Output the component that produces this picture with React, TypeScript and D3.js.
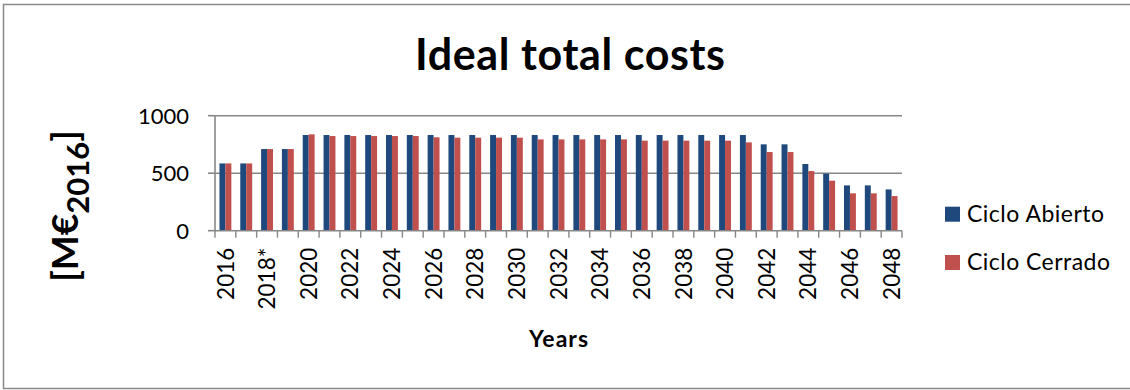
import React from "react";
import * as d3 from "d3";

const categories = [
  "2016", "2017", "2018*", "2019", "2020", "2021", "2022", "2023", "2024", "2025",
  "2026", "2027", "2028", "2029", "2030", "2031", "2032", "2033", "2034", "2035",
  "2036", "2037", "2038", "2039", "2040", "2041", "2042", "2043", "2044", "2045",
  "2046", "2047", "2048",
];
const cicloAbierto = [
  585, 585, 710, 710, 832, 832, 832, 832, 832, 832,
  832, 832, 832, 832, 832, 832, 832, 832, 832, 832,
  832, 832, 832, 832, 832, 832, 751, 751, 580, 496,
  394, 394, 359,
];
const cicloCerrado = [
  585, 585, 710, 710, 838, 823, 823, 823, 823, 823,
  812, 809, 809, 809, 809, 794, 794, 794, 794, 794,
  783, 783, 783, 783, 783, 768, 684, 684, 519, 435,
  325, 325, 301,
];
const yTicks = [0, 500, 1000];
const seriesNames = ["Ciclo Abierto", "Ciclo Cerrado"];
const seriesColors = ["#1F497D", "#C0504D"];
const legendWidths = [137, 143];

const FONT = "Lato, 'Open Sans', sans-serif";

export default function App() {
  const left = 215, right = 902, top = 115.7, bottom = 230.7;
  const x = d3.scaleBand<string>().domain(categories).range([left, right]).padding(0);
  const y = d3.scaleLinear().domain([0, 1000]).range([bottom, top]);
  const bw = x.bandwidth();
  const barW = bw / 3.5;
  const x1 = d3.scaleBand<string>().domain(seriesNames).range([(bw - 2 * barW) / 2, (bw + 2 * barW) / 2]).padding(0);
  const series = [cicloAbierto, cicloCerrado];
  const grid = "#878787";

  return (
    <svg width={1130} height={390} style={{ position: "absolute", left: 0, top: 0, background: "#fff" }} fontFamily={FONT}>
      <rect x={3.5} y={4.5} width={1140} height={384} fill="#fff" stroke="#888" strokeWidth={1.5} />
      <text x={570} y={69.5} textAnchor="middle" fontSize={43} fontWeight={700} fill="#000" textLength={310} lengthAdjust="spacing">Ideal total costs</text>

      {yTicks.map((t) => (
        <g key={t}>
          {t > 0 && <line x1={left} x2={right} y1={y(t)} y2={y(t)} stroke={grid} strokeWidth={1.6} />}
          <line x1={left - 7} x2={left} y1={y(t)} y2={y(t)} stroke={grid} strokeWidth={1.6} />
          <text x={189} y={y(t)} dy="0.36em" textAnchor="end" fontSize={22} fill="#000">{t}</text>
        </g>
      ))}

      {series.map((vals, si) => (
        <g key={si}>
          {vals.map((v, i) => (
            <rect
              key={i}
              x={(x(categories[i]) as number) + (x1(seriesNames[si]) as number)}
              y={y(v)}
              width={barW}
              height={y(0) - y(v)}
              fill={seriesColors[si]}
            />
          ))}
        </g>
      ))}

      <line x1={left} x2={left} y1={top} y2={bottom} stroke={grid} strokeWidth={1.6} />
      <line x1={left} x2={right} y1={bottom} y2={bottom} stroke={grid} strokeWidth={1.6} />
      {categories.map((c, i) => (
        <line key={"t" + i} x1={x(c) as number} x2={x(c) as number} y1={bottom} y2={bottom + 7} stroke={grid} strokeWidth={1.4} />
      ))}
      <line x1={right} x2={right} y1={bottom} y2={bottom + 7} stroke={grid} strokeWidth={1.4} />

      {categories.map((c, i) =>
        i % 2 === 0 ? (
          <text
            key={"l" + i}
            transform={`translate(${(x(c) as number) + bw / 2},${bottom + 17}) rotate(-90)`}
            dy="0.36em"
            textAnchor="end"
            fontSize={22.5}
            fill="#000"
          >
            {c}
          </text>
        ) : null
      )}

      <text x={558.5} y={347.3} textAnchor="middle" fontSize={23} fontWeight={700} fill="#000" textLength={59} lengthAdjust="spacing">Years</text>

      <text transform="translate(78,206) rotate(-90)" textAnchor="middle" fontSize={37} fontWeight={700} fill="#000">
        [M€<tspan fontSize={31} dy={11}>2016</tspan><tspan dy={-11}>]</tspan>
      </text>

      {seriesNames.map((n, i) => (
        <g key={n}>
          <rect x={945} y={206.7 + i * 48.3} width={15} height={15} fill={seriesColors[i]} />
          <text x={967} y={221.7 + i * 48.3} fontSize={23} fill="#000" textLength={legendWidths[i]} lengthAdjust="spacing">{n}</text>
        </g>
      ))}
    </svg>
  );
}
